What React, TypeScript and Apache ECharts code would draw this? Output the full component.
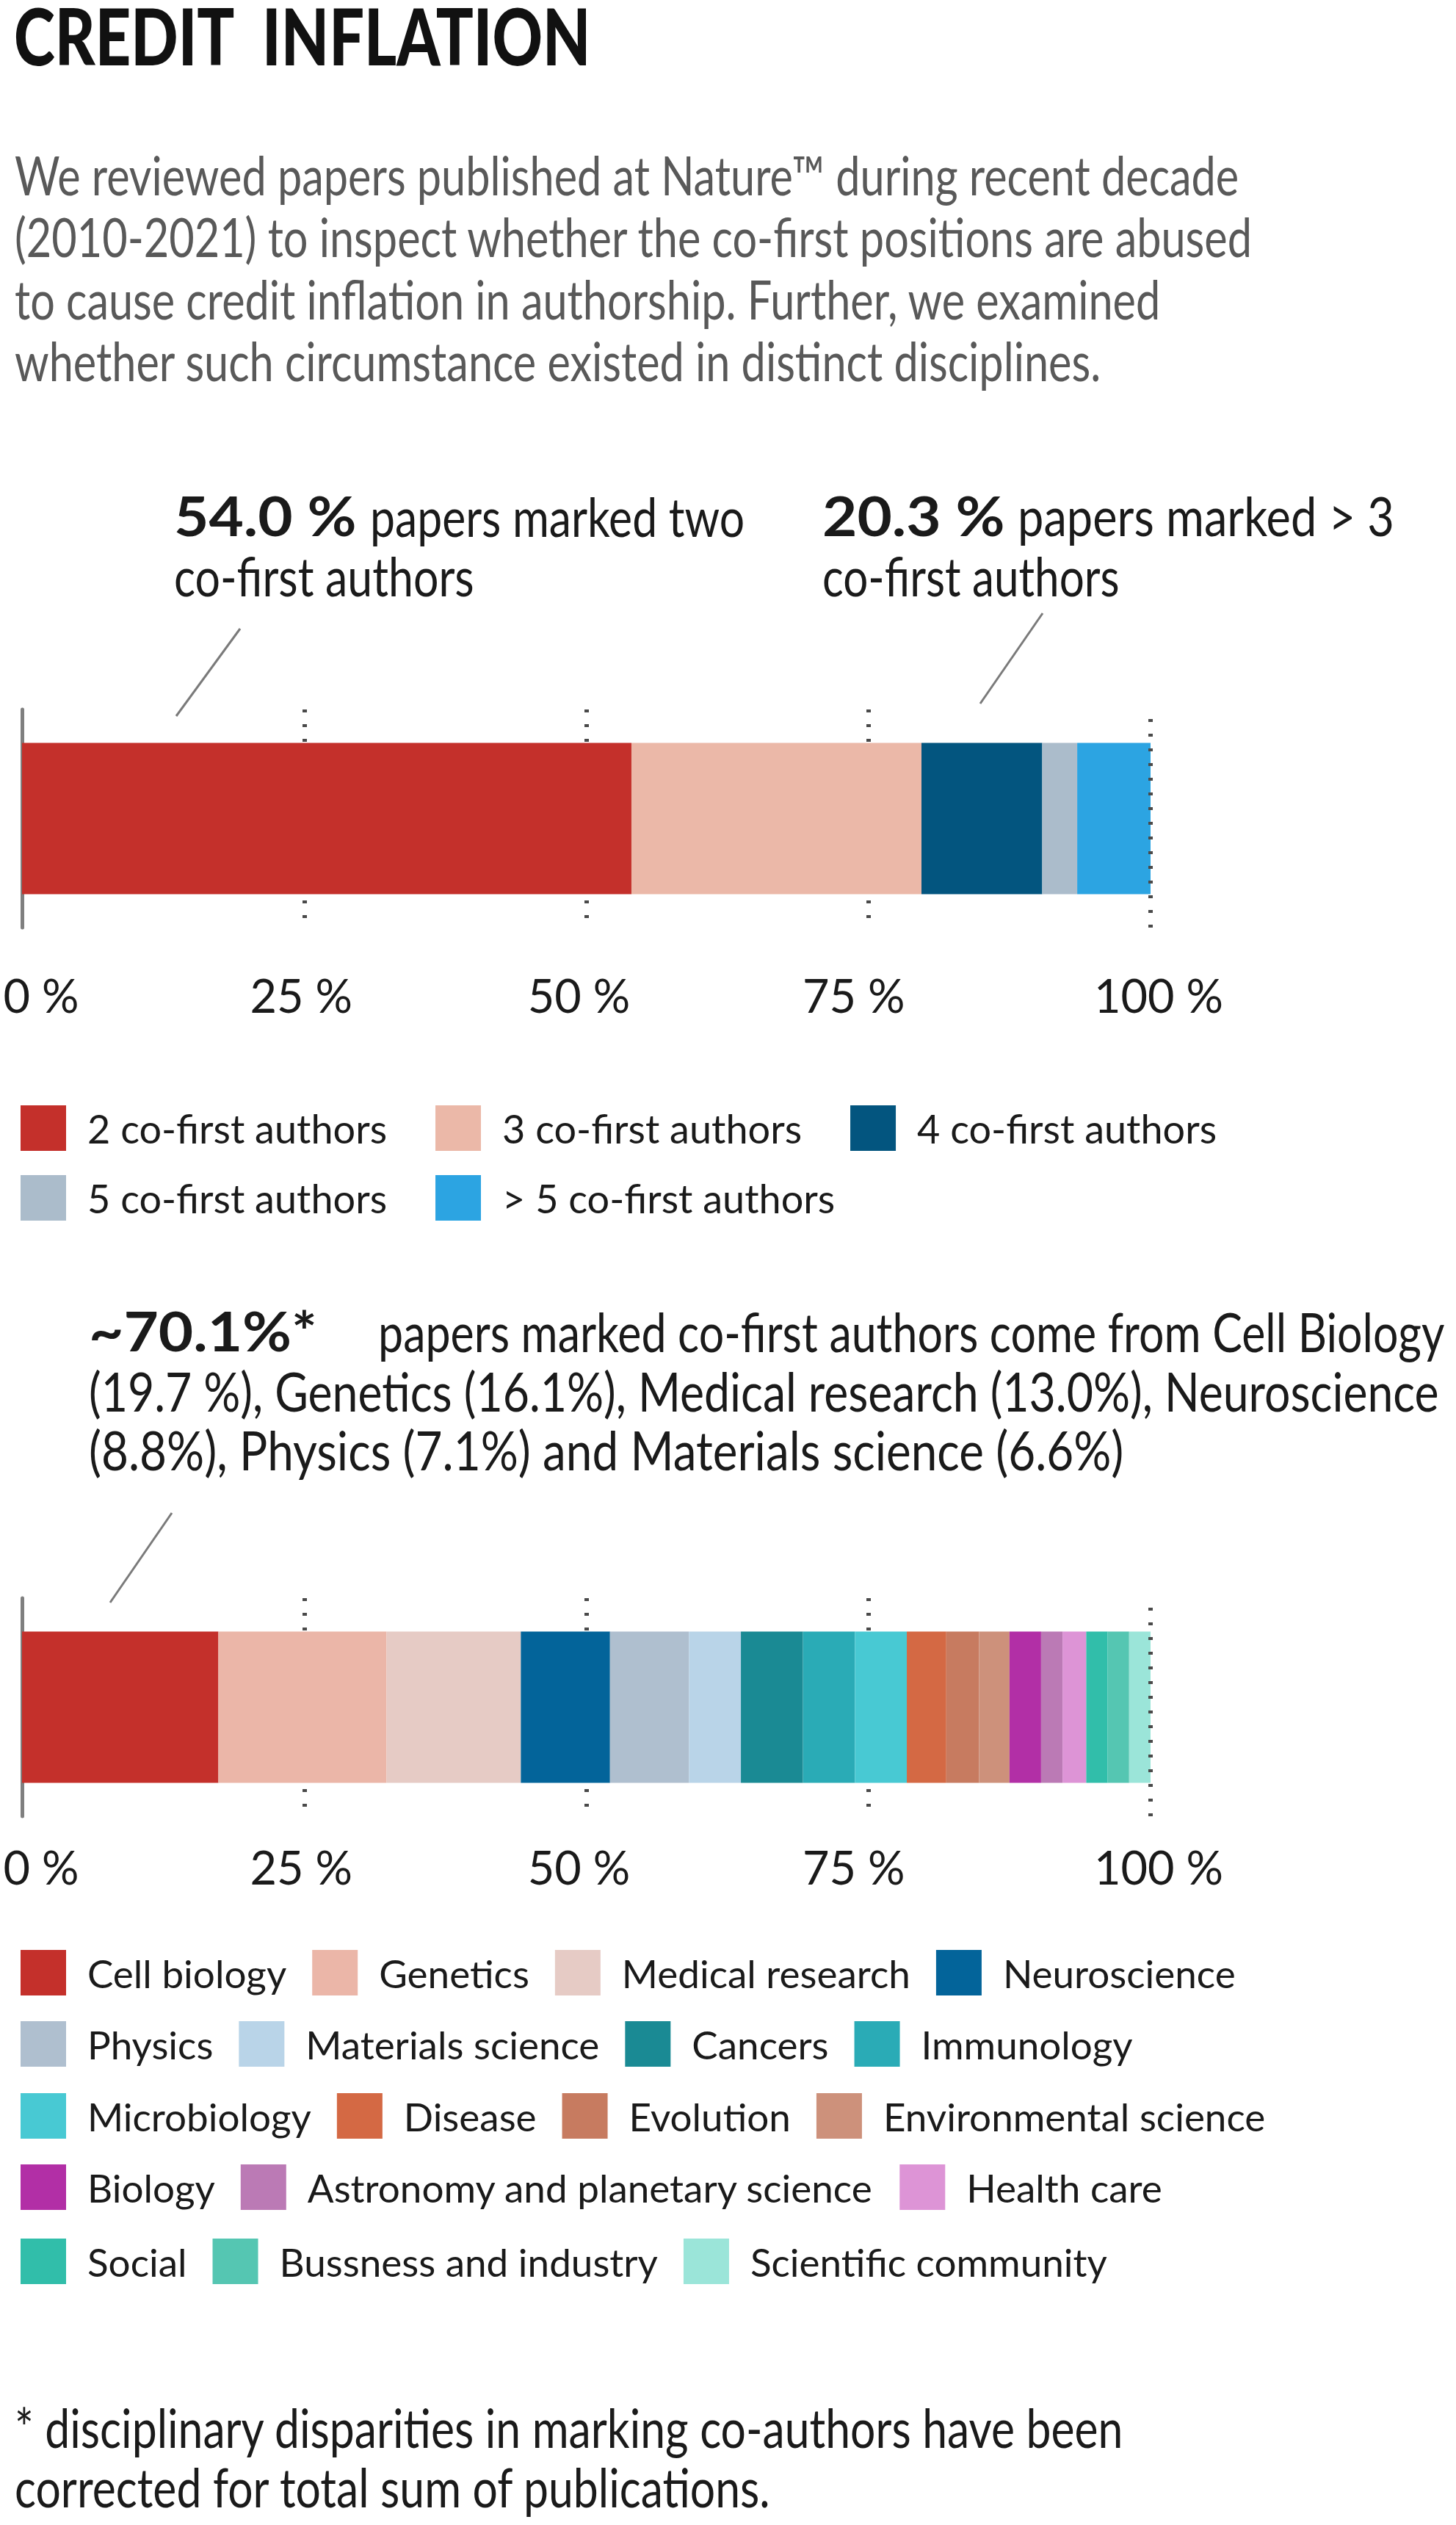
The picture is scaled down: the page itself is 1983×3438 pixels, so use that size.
import React, { useEffect, useRef } from "react";
import * as echarts from "echarts";

// ---------- data ----------
const AUTHOR_CATEGORIES = [
  "2 co-first authors",
  "3 co-first authors",
  "4 co-first authors",
  "5 co-first authors",
  "> 5 co-first authors",
];
const AUTHOR_SHARES = [54.0, 25.7, 10.7, 3.1, 6.5];
const AUTHOR_COLORS = ["#C4302B", "#EBB8A8", "#03557F", "#ABBCCB", "#2CA4E2"];

const DISCIPLINES = [
  "Cell biology",
  "Genetics",
  "Medical research",
  "Neuroscience",
  "Physics",
  "Materials science",
  "Cancers",
  "Immunology",
  "Microbiology",
  "Disease",
  "Evolution",
  "Environmental science",
  "Biology",
  "Astronomy and planetary science",
  "Health care",
  "Social",
  "Bussness and industry",
  "Scientific community",
];
const DISCIPLINE_SHARES = [17.4, 14.9, 11.9, 7.9, 7.0, 4.6, 5.5, 4.6, 4.6, 3.5, 2.9, 2.7, 2.8, 1.9, 2.1, 1.9, 1.9, 1.9];
const DISCIPLINE_COLORS = [
  "#C4302B", "#EBB6A8", "#E6CBC5", "#03649A", "#AFBFCF", "#B9D4E8",
  "#1A8A94", "#2AABB6", "#48C9D3", "#D46944", "#C77B60", "#CD917B",
  "#B22FA6", "#BB7AB5", "#DD94D6", "#31BEAA", "#55C6B2", "#9BE5D9",
];

const PERCENT_TICKS = [0, 25, 50, 75, 100];

const TITLE = "CREDIT  INFLATION";
const INTRO_LINES = [
  "We reviewed papers published at Nature\u2122 during recent decade",
  "(2010-2021) to inspect whether the co-first positions are abused",
  "to cause credit inflation in authorship. Further, we examined",
  "whether such circumstance existed in distinct disciplines.",
];
const NOTE_TWO = ["54.0 %", "papers marked two", "co-first authors"];
const NOTE_MORE = ["20.3 %", "papers marked > 3", "co-first authors"];
const NOTE_DISC = [
  "~70.1%*",
  "papers marked co-first authors come from Cell Biology",
  "(19.7 %), Genetics (16.1%), Medical research (13.0%), Neuroscience",
  "(8.8%), Physics (7.1%) and Materials science (6.6%)",
];
const FOOTNOTE = [
  "* disciplinary disparities in marking co-authors have been",
  "corrected for total sum of publications.",
];

// ---------- layout / style ----------
const FONT = "Lato, Roboto, sans-serif";
const INK = "#1a1a1a";
const DOTTED = { color: "#4a4a4a", width: 6, type: [4, 16] };
// horizontal nudges of the tick labels (px) relative to their ticks
const LABEL_SHIFT = [26, -4, -10, -20, 11];

const AUTHOR_LEGEND_ROWS = [[0, 1, 2], [3, 4]];
const AUTHOR_LEGEND_TOPS = [1505, 1600];
const DISC_LEGEND_ROWS = [[0, 1, 2, 3], [4, 5, 6, 7], [8, 9, 10, 11], [12, 13, 14], [15, 16, 17]];
const DISC_LEGEND_TOPS = [2655, 2752, 2850, 2947, 3048];

let measureCtx: CanvasRenderingContext2D | null = null;
function measure(text: string, size: number, weight: string = "normal") {
  if (!measureCtx) measureCtx = document.createElement("canvas").getContext("2d");
  if (!measureCtx) return text.length * size * 0.5;
  measureCtx.font = `${weight} ${size}px ${FONT}`;
  return measureCtx.measureText(text).width;
}

function axisPair(gridIndex: number, cat: string, labelSize: number, margin: number) {
  const rich: any = {};
  LABEL_SHIFT.forEach((d, i) => {
    rich["s" + i] = {
      fontFamily: FONT,
      fontSize: labelSize,
      color: INK,
      padding: d >= 0 ? [0, 0, 0, 2 * d] : [0, -2 * d, 0, 0],
    };
  });
  const x = {
    type: "value",
    gridIndex,
    min: PERCENT_TICKS[0],
    max: PERCENT_TICKS[PERCENT_TICKS.length - 1],
    interval: PERCENT_TICKS[1] - PERCENT_TICKS[0],
    axisLine: { show: false },
    axisTick: { show: false },
    splitLine: {
      show: true,
      showMinLine: false,
      showMaxLine: false,
      lineStyle: DOTTED,
    },
    axisLabel: {
      formatter: (v: number) => {
        const i = Math.max(0, PERCENT_TICKS.indexOf(v));
        return `{s${i}|${v} %}`;
      },
      rich,
      fontFamily: FONT,
      fontSize: labelSize,
      color: INK,
      margin,
    },
  };
  const y = {
    type: "category",
    gridIndex,
    data: [cat],
    axisLine: { show: true, lineStyle: { color: "#7f7f7f", width: 5 } },
    axisTick: { show: false },
    axisLabel: { show: false },
    splitLine: { show: false },
  };
  return { x, y };
}

function legendRow(names: string[], top: number, gap: number, fontSize: number) {
  return {
    data: names,
    left: 28,
    top,
    width: 1940,
    orient: "horizontal",
    itemWidth: 62,
    itemHeight: 62,
    itemGap: gap,
    padding: 0,
    icon: "rect",
    selectedMode: false,
    itemStyle: { borderWidth: 0 },
    textStyle: {
      fontFamily: FONT,
      fontSize,
      color: INK,
      padding: [0, 0, 0, 24],
    },
  };
}

function textEl(x: number, y: number, text: string, size: number, sx: number, extra: any = {}) {
  return {
    type: "text",
    x,
    y,
    scaleX: sx,
    silent: true,
    style: {
      text,
      fontFamily: FONT,
      fontSize: size,
      fill: INK,
      verticalAlign: "middle",
      align: "left",
      ...extra,
    },
  };
}

function leader(x1: number, y1: number, x2: number, y2: number) {
  return {
    type: "line",
    silent: true,
    shape: { x1, y1, x2, y2 },
    style: { stroke: "#7a7a7a", lineWidth: 3 },
  };
}

function stackSeries(
  names: string[],
  values: number[],
  colors: string[],
  stack: string,
  axisIndex: number
) {
  return names.map((name, i) => {
    const s: any = {
      type: "bar",
      name,
      stack,
      xAxisIndex: axisIndex,
      yAxisIndex: axisIndex,
      barWidth: 206,
      silent: true,
      data: [values[i]],
      itemStyle: { color: colors[i] },
    };
    if (i === names.length - 1) {
      // the 100 % guide is drawn over the end of the bar, as in the reference
      s.markLine = {
        silent: true,
        symbol: "none",
        label: { show: false },
        lineStyle: DOTTED,
        data: [{ xAxis: PERCENT_TICKS[PERCENT_TICKS.length - 1] }],
      };
    }
    return s;
  });
}

function buildOption() {
  // font metrics based sizing (to emulate the condensed face of the reference)
  const axisSize = Math.round((74 * 139) / measure("25 %", 74));
  const legend1Size = Math.round((66 * 406) / measure(AUTHOR_CATEGORIES[0], 66));
  const legend2Size = Math.round(
    (64 * (265 + 405)) / (measure(DISCIPLINES[0], 64) + measure(DISCIPLINES[5], 64))
  );

  const titleSize = 107;
  const titleScale = 788 / measure(TITLE, titleSize, "900");
  const introSize = 74;
  const introScale = 1667 / measure(INTRO_LINES[0], introSize);
  const noteSize = 74;
  const noteScale = 1839 / measure(NOTE_DISC[2], noteSize);
  const boldScale = 311 / measure(NOTE_DISC[0], noteSize, "bold");
  const fit = (t: string, w: number) => Math.min(noteScale * 1.03, w / measure(t, noteSize));
  const footSize = 74;
  const footScale = 1511 / measure(FOOTNOTE[0], footSize);

  const a1 = axisPair(0, "authors", axisSize, 60);
  const a2 = axisPair(1, "disciplines", axisSize, 37);

  const series: any[] = [
    ...stackSeries(AUTHOR_CATEGORIES, AUTHOR_SHARES, AUTHOR_COLORS, "authors", 0),
    ...stackSeries(DISCIPLINES, DISCIPLINE_SHARES, DISCIPLINE_COLORS, "disciplines", 1),
  ];

  const legends = [
    ...AUTHOR_LEGEND_ROWS.map((row, r) =>
      legendRow(row.map((i) => AUTHOR_CATEGORIES[i]), AUTHOR_LEGEND_TOPS[r], 66, legend1Size)
    ),
    ...DISC_LEGEND_ROWS.map((row, r) =>
      legendRow(row.map((i) => DISCIPLINES[i]), DISC_LEGEND_TOPS[r], 35, legend2Size)
    ),
  ];

  const bold = { fontWeight: "bold" };
  const graphics: any[] = [
    textEl(19, 48, TITLE, titleSize, titleScale, { fontWeight: 900, fill: "#111" }),
    ...INTRO_LINES.map((t, i) =>
      textEl(20, 237 + i * 84.5, t, introSize, introScale, { fill: "#595959" })
    ),
    textEl(237, 702, NOTE_TWO[0], noteSize, boldScale, bold),
    textEl(504, 702, NOTE_TWO[1], noteSize, fit(NOTE_TWO[1], 510)),
    textEl(237, 783, NOTE_TWO[2], noteSize, fit(NOTE_TWO[2], 409)),
    textEl(1120, 702, NOTE_MORE[0], noteSize, boldScale, bold),
    textEl(1386, 702, NOTE_MORE[1], noteSize, fit(NOTE_MORE[1], 513)),
    textEl(1120, 783, NOTE_MORE[2], noteSize, fit(NOTE_MORE[2], 405)),
    leader(327, 856, 240, 975),
    leader(1420, 835, 1335, 958),
    textEl(121, 1812, NOTE_DISC[0], noteSize, boldScale, bold),
    textEl(515, 1812, NOTE_DISC[1], noteSize, fit(NOTE_DISC[1], 1452)),
    textEl(121, 1893, NOTE_DISC[2], noteSize, noteScale),
    textEl(121, 1974, NOTE_DISC[3], noteSize, fit(NOTE_DISC[3], 1410)),
    leader(234, 2060, 150, 2182),
    ...FOOTNOTE.map((t, i) => textEl(20, 3304 + i * 81, t, footSize, footScale)),
  ];

  return {
    animation: false,
    backgroundColor: "#ffffff",
    grid: [
      { left: 30, top: 966, width: 1537, height: 297, outerBoundsMode: "none", containLabel: false },
      { left: 30, top: 2176, width: 1537, height: 297, outerBoundsMode: "none", containLabel: false },
    ],
    xAxis: [a1.x, a2.x],
    yAxis: [a1.y, a2.y],
    legend: legends,
    series,
    graphic: graphics,
  };
}

export default function App() {
  const ref = useRef<HTMLDivElement>(null);
  useEffect(() => {
    document.body.style.margin = "0";
    if (!ref.current) return;
    const chart = echarts.init(ref.current, null, { renderer: "svg", width: 1983, height: 3438 });
    chart.setOption(buildOption() as any);
    return () => chart.dispose();
  }, []);
  return <div ref={ref} style={{ width: 1983, height: 3438, background: "#fff" }} />;
}
